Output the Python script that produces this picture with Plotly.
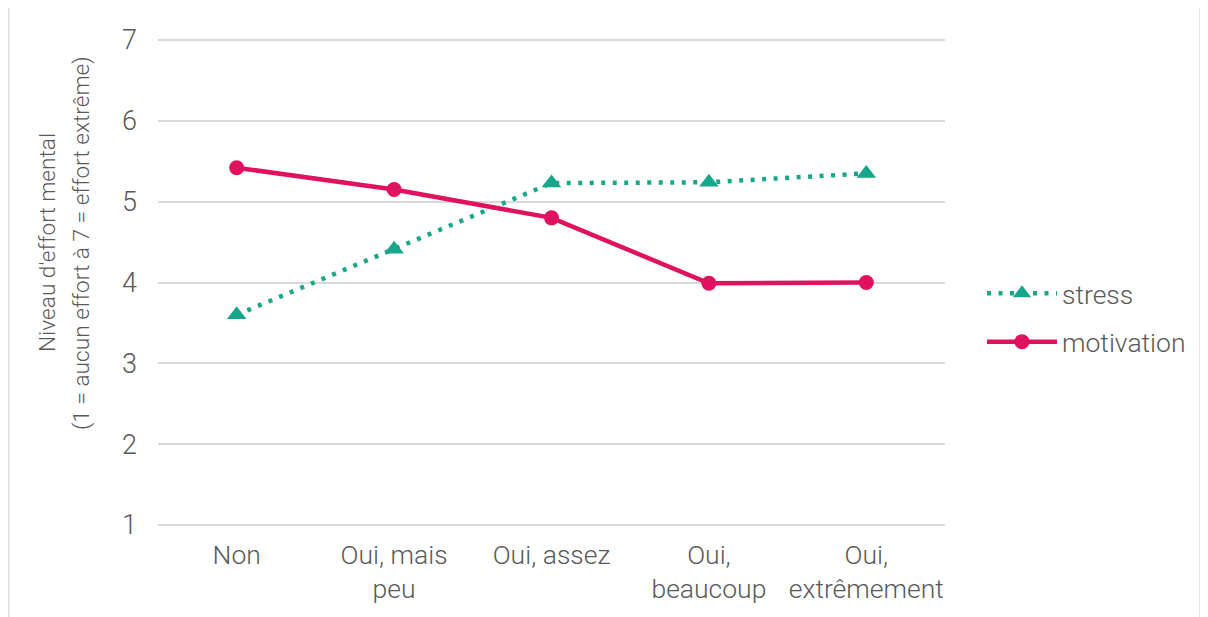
import plotly.graph_objects as go

categories = ["Non", "Oui, mais<br>peu", "Oui, assez", "Oui,<br>beaucoup", "Oui,<br>extrêmement"]
stress = [3.60, 4.41, 5.23, 5.24, 5.35]
motivation = [5.42, 5.15, 4.80, 3.99, 4.00]
y_ticks = [1, 2, 3, 4, 5, 6, 7]
y_title_lines = ["Niveau d'effort mental", "(1 = aucun effort à 7 = effort extrême)"]

TEAL = "#18A68B"
PINK = "#E0115F"
GRAY = "#595959"
GRID = "#D9D9D9"
FONT = "Roboto"

x_idx = list(range(len(categories)))

W, H = 1200, 609
L, R, T, B = 150, 263, 30, 90
PW, PH = W - L - R, H - T - B

fig = go.Figure()
fig.add_trace(go.Scatter(
    x=x_idx, y=stress, name="stress", mode="lines+markers", legendgroup="g1",
    line=dict(color=TEAL, width=4.5, dash="4px,7.5px"),
    marker=dict(symbol="triangle-up", size=17, color=TEAL),
))
fig.add_trace(go.Scatter(
    x=x_idx, y=motivation, name="motivation", mode="lines+markers", legendgroup="g2",
    line=dict(color=PINK, width=4.5),
    marker=dict(symbol="circle", size=15, color=PINK),
))

# y-axis title drawn as two rotated annotations (window coords -> figure coords)
title_x_px = [47 - 8, 81 - 8]
title_y_px = 243 - 8
annotations = []
for txt, xp in zip(y_title_lines, title_x_px):
    annotations.append(dict(
        text=txt, textangle=-90, showarrow=False,
        xref="paper", yref="paper",
        x=(xp - L) / PW, y=1 - (title_y_px - T) / PH,
        xanchor="center", yanchor="middle",
        font=dict(family=FONT, size=22.7, color=GRAY, weight=300),
    ))

fig.update_layout(
    width=W, height=H,
    paper_bgcolor="white", plot_bgcolor="white",
    margin=dict(l=L, r=R, t=T, b=B),
    font=dict(family=FONT, size=26, color=GRAY, weight=300),
    showlegend=True,
    legend=dict(
        x=(974 - L) / PW, y=1 - (309.5 - T) / PH, xanchor="left", yanchor="middle",
        font=dict(family=FONT, size=26.5, color=GRAY, weight=300),
        itemwidth=70, tracegroupgap=11, traceorder="grouped",
        bgcolor="rgba(0,0,0,0)",
    ),
    xaxis=dict(
        tickmode="array", tickvals=x_idx, ticktext=categories,
        range=[-0.5, len(categories) - 0.5],
        showgrid=False, zeroline=False, showline=False,
        ticks="", ticklabelstandoff=9,
        tickfont=dict(family=FONT, size=26.5, color=GRAY, weight=300),
    ),
    yaxis=dict(
        range=[0.975, 7.025], tickmode="array", tickvals=y_ticks,
        showgrid=True, gridcolor=GRID, gridwidth=1.6,
        zeroline=False, showline=False, ticks="",
        ticklabelstandoff=20,
        tickfont=dict(family=FONT, size=27, color=GRAY, weight=300),
    ),
    annotations=annotations,
    shapes=[dict(
        type="rect", xref="paper", yref="paper",
        x0=(0.5 - L) / PW, x1=(1192 - L) / PW,
        y0=-1, y1=(H - T - 0.5) / PH,
        line=dict(color=GRID, width=1.5), fillcolor="rgba(0,0,0,0)",
        layer="below",
    )],
)

fig.write_html("out.html")
